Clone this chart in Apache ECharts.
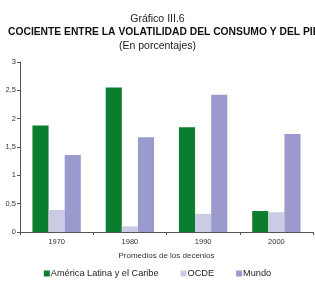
<!DOCTYPE html>
<html><head><meta charset="utf-8">
<script src="https://cdn.jsdelivr.net/npm/echarts@6/dist/echarts.min.js"></script>
<style>html,body{margin:0;padding:0;background:#fff}#c{width:315px;height:285px}</style>
</head><body><div id="c"></div>
<script>
var categories = ['1970', '1980', '1990', '2000'];
var seriesNames = ['América Latina y el Caribe', 'OCDE', 'Mundo'];
var latam = [1.88, 2.55, 1.85, 0.37];
var ocde = [0.39, 0.10, 0.32, 0.35];
var mundo = [1.36, 1.67, 2.42, 1.73];
var yTicks = [0, 0.5, 1, 1.5, 2, 2.5, 3];
var colors = ['#0a7e2e', '#cbcbe5', '#9a9acc'];

var chart = echarts.init(document.getElementById('c'), null, {renderer: 'canvas'});
var font = 'Liberation Sans, Arial, Helvetica, sans-serif';
var data = [latam, ocde, mundo];
chart.setOption({
  animation: false,
  textStyle: {fontFamily: font},
  title: [
    {text: 'Gráfico III.6', left: 'center', top: 9, textStyle: {fontSize: 10.5, fontWeight: 'normal', color: '#222', fontFamily: font}},
    {text: 'COCIENTE ENTRE LA VOLATILIDAD DEL CONSUMO Y DEL PIB', left: 3, top: 22, textStyle: {fontSize: 10.3, fontWeight: 'bold', color: '#111', fontFamily: font}},
    {text: '(En porcentajes)', left: 'center', top: 36, textStyle: {fontSize: 10.5, fontWeight: 'normal', color: '#222', fontFamily: font}}
  ],
  legend: {
    bottom: 2, left: 'center', itemWidth: 6, itemHeight: 6, itemGap: 22, icon: 'rect',
    textStyle: {fontSize: 9.2, color: '#222', fontFamily: font, padding: [0, 0, 0, -4]},
    data: seriesNames
  },
  grid: {left: 20, right: 2, top: 62, bottom: 53, containLabel: false},
  xAxis: {
    type: 'category', data: categories,
    name: 'Promedios de los decenios', nameLocation: 'middle', nameGap: 20,
    nameTextStyle: {fontSize: 8, color: '#333'},
    axisLine: {lineStyle: {color: '#555', width: 1}},
    axisTick: {show: true, alignWithLabel: false, length: 3, lineStyle: {color: '#555'}},
    axisLabel: {fontSize: 7.5, color: '#333', margin: 6}
  },
  yAxis: {
    type: 'value', min: 0, max: 3, interval: 0.5,
    axisLine: {show: true, lineStyle: {color: '#555', width: 1}},
    axisTick: {show: true, length: 3, lineStyle: {color: '#555'}},
    splitLine: {show: false},
    axisLabel: {fontSize: 7.5, color: '#333', margin: 4,
      formatter: function (v) { return String(v).replace('.', ','); }}
  },
  series: seriesNames.map(function (n, i) {
    return {name: n, type: 'bar', data: data[i], barGap: '0%', barCategoryGap: '34%',
      itemStyle: {color: colors[i]}};
  })
});
</script></body></html>
